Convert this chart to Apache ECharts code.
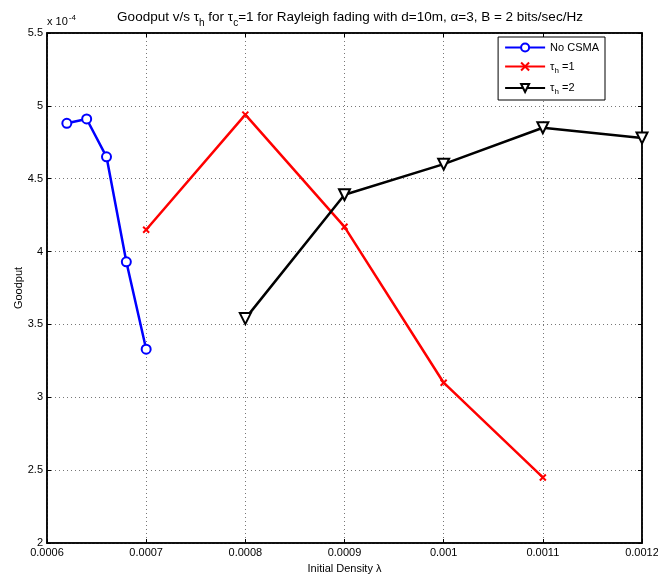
<!DOCTYPE html>
<html>
<head>
<meta charset="utf-8">
<script src="https://cdn.jsdelivr.net/npm/echarts@6/dist/echarts.min.js"></script>
<style>html,body{margin:0;padding:0;background:#fff}#c{width:658px;height:578px}</style>
</head>
<body>
<div id="c"></div>
<script>
var xTicks = [0.0006, 0.0007, 0.0008, 0.0009, 0.001, 0.0011, 0.0012];
var noCsmaX = [0.00062, 0.00064, 0.00066, 0.00068, 0.0007];
var noCsmaY = [4.88, 4.91, 4.65, 3.93, 3.33];
var th1X = [0.0007, 0.0008, 0.0009, 0.001, 0.0011];
var th1Y = [4.15, 4.94, 4.17, 3.10, 2.45];
var th2X = [0.0008, 0.0009, 0.001, 0.0011, 0.0012];
var th2Y = [3.54, 4.39, 4.60, 4.85, 4.78];

function pairs(xs, ys){ return xs.map(function(x,i){return [x, ys[i]];}); }

var FONT = 'Liberation Sans';
var chart = echarts.init(document.getElementById('c'));
var xPath = 'path://M0,0L10,10M10,0L0,10';

chart.setOption({
  animation: false,
  textStyle: {fontFamily: FONT},
  title: {
    text: 'Goodput v/s \u03c4{s|h} for \u03c4{s|c}=1 for Rayleigh fading with d=10m, \u03b1=3, B = 2 bits/sec/Hz',
    left: 345, top: 1, textAlign: 'center',
    textStyle: {fontFamily: FONT, fontSize: 13.5, fontWeight: 'normal', color: '#000',
      rich: {s: {fontSize: 10, padding: [12, 0, 0, 0], fontFamily: FONT, color:'#000'}}}
  },
  grid: {left: 47, right: 16, top: 33, bottom: 35, show: true, borderColor: '#000', borderWidth: 1.5, outerBoundsMode: 'none', containLabel: false},
  legend: {
    orient: 'vertical', right: 53, top: 37,
    backgroundColor: '#fff', borderColor: '#000', borderWidth: 1, borderRadius: 0,
    padding: [5, 6, 4, 6], itemGap: 8, itemWidth: 40, itemHeight: 10,
    textStyle: {fontFamily: FONT, fontSize: 11, color: '#000',
      rich: {s: {fontSize: 8, padding: [8, 0, 0, 0], fontFamily: FONT, color:'#000'}}},
    formatter: function(n){
      if (n === 'th1') return '\u03c4{s|h} =1';
      if (n === 'th2') return '\u03c4{s|h} =2';
      return n;
    }
  },
  xAxis: [{
    type: 'value', min: 0.0006, max: 0.0012, interval: 0.0001,
    name: 'Initial Density \u03bb', nameLocation: 'middle', nameGap: 20, nameMoveOverlap: false,
    nameTextStyle: {fontFamily: FONT, fontSize: 11, color: '#000'},
    axisLine: {show: true, lineStyle: {color: '#000', width: 1.5}},
    axisTick: {inside: true, length: 4, lineStyle: {color: '#000'}},
    axisLabel: {color: '#000', fontSize: 11, margin: 4, fontFamily: FONT,
      formatter: function(v){ var i = xTicks.findIndex(function(t){return Math.abs(t-v)<1e-9;}); return i>=0 ? String(xTicks[i]) : ''; }},
    splitLine: {show: true, lineStyle: {color: '#777', type: [1, 3], width: 1}}
  }, {
    type: 'value', position: 'top', min: 0.0006, max: 0.0012, interval: 0.0001,
    axisLine: {show: true, lineStyle: {color: '#000', width: 1.5}},
    axisTick: {inside: true, length: 4, lineStyle: {color: '#000'}},
    axisLabel: {show: false}, splitLine: {show: false}
  }],
  yAxis: [{
    type: 'value', min: 2, max: 5.5, interval: 0.5,
    name: 'Goodput', nameLocation: 'middle', nameGap: 23, nameMoveOverlap: false,
    nameTextStyle: {fontFamily: FONT, fontSize: 11, color: '#000'},
    axisLine: {show: true, lineStyle: {color: '#000', width: 1.5}},
    axisTick: {inside: true, length: 4, lineStyle: {color: '#000'}},
    axisLabel: {color: '#000', fontSize: 11, margin: 4, fontFamily: FONT},
    splitLine: {show: true, lineStyle: {color: '#777', type: [1, 3], width: 1}}
  }, {
    type: 'value', position: 'right', min: 2, max: 5.5, interval: 0.5,
    axisLine: {show: true, lineStyle: {color: '#000', width: 1.5}},
    axisTick: {inside: true, length: 4, lineStyle: {color: '#000'}},
    axisLabel: {show: false}, splitLine: {show: false}
  }],
  graphic: [{
    type: 'text', left: 47, top: 14,
    style: {text: 'x 10{e|-4}', fontFamily: FONT, fontSize: 11, fill: '#000',
      rich: {e: {fontSize: 8, padding: [0, 0, 8, 1], fontFamily: FONT}}}
  }],
  series: [{
    name: 'No CSMA', type: 'line', data: pairs(noCsmaX, noCsmaY),
    symbol: 'emptyCircle', symbolSize: 9,
    lineStyle: {color: '#0000ff', width: 2.5},
    itemStyle: {color: '#0000ff', borderColor: '#0000ff', borderWidth: 2}
  }, {
    name: 'th1', type: 'line', data: pairs(th1X, th1Y),
    symbol: xPath, symbolSize: 6,
    lineStyle: {color: '#ff0000', width: 2.5},
    itemStyle: {color: '#ff0000', borderColor: '#ff0000', borderWidth: 2}
  }, {
    name: 'th2', type: 'line', data: pairs(th2X, th2Y),
    symbol: 'emptyTriangle', symbolRotate: 180, symbolSize: 11,
    lineStyle: {color: '#000', width: 2.5},
    itemStyle: {color: '#000', borderColor: '#000', borderWidth: 2.5}
  }]
});
</script>
</body>
</html>
